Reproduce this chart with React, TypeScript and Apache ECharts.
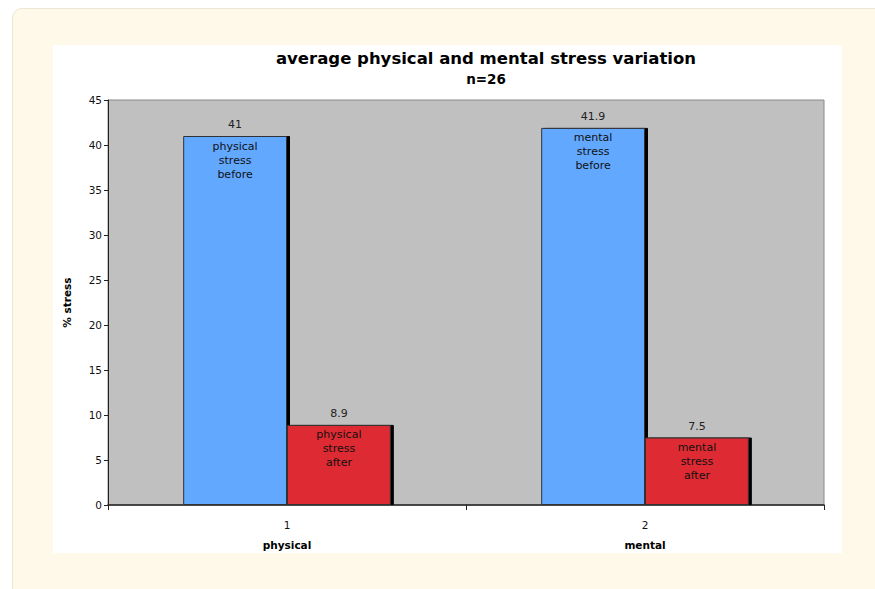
import React, { useEffect, useRef } from "react";
import * as echarts from "echarts";

const categories = ["1", "2"];
const groupNames = ["physical", "mental"];
const beforeValues = [41, 41.9];
const afterValues = [8.9, 7.5];
const beforeLabels = ["physical\nstress\nbefore", "mental\nstress\nbefore"];
const afterLabels = ["physical\nstress\nafter", "mental\nstress\nafter"];
const yTicks = { min: 0, max: 45, interval: 5 };

const FONT = "DejaVu Sans";

export default function App() {
  const ref = useRef<HTMLDivElement>(null);
  useEffect(() => {
    if (!ref.current) return;
    const chart = echarts.init(ref.current, null, { renderer: "svg" });
    const barStyle = (color: string) => ({
      color,
      borderColor: "#333",
      borderWidth: 1,
      shadowColor: "#000",
      shadowOffsetX: 3,
      shadowOffsetY: 0,
      shadowBlur: 0,
    });
    const innerLabel = {
      show: true,
      position: "insideTop",
      distance: 3,
      fontFamily: FONT,
      fontSize: 11,
      lineHeight: 14,
      color: "#111",
    };
    const topLabel = {
      show: true,
      position: "top",
      distance: 6,
      fontFamily: FONT,
      fontSize: 11,
      color: "#222",
    };
    chart.setOption({
      animation: false,
      backgroundColor: "transparent",
      title: {
        text: "average physical and mental stress variation",
        subtext: "n=26",
        left: 481,
        textAlign: "center",
        top: 43,
        itemGap: 3,
        textStyle: { fontFamily: FONT, fontSize: 16.5, fontWeight: "bold", color: "#000", lineHeight: 20 },
        subtextStyle: { fontFamily: FONT, fontSize: 13.5, fontWeight: "bold", color: "#000", lineHeight: 16 },
      },
      grid: {
        left: 108,
        top: 100,
        right: 51,
        bottom: 84,
        show: true,
        backgroundColor: "#C0C0C0",
        borderColor: "#8a8a8a",
        borderWidth: 1,
      },
      xAxis: [
        {
          type: "category",
          data: categories,
          axisLine: { show: true, lineStyle: { color: "#222", width: 1.5 } },
          axisTick: { show: true, alignWithLabel: false, length: 5, lineStyle: { color: "#222" } },
          axisLabel: {
            fontFamily: FONT,
            fontSize: 10.5,
            color: "#111",
            margin: 10,
            lineHeight: 20,
            formatter: (v: string, i: number) => `${v}\n{b|${groupNames[i]}}`,
            rich: {
              b: { fontFamily: FONT, fontSize: 10.5, fontWeight: "bold", color: "#000", lineHeight: 20 },
            },
          },
          splitLine: { show: false },
        },
        {
          type: "category",
          data: categories,
          show: false,
        },
      ],
      yAxis: {
        type: "value",
        min: yTicks.min,
        max: yTicks.max,
        interval: yTicks.interval,
        name: "% stress",
        nameLocation: "middle",
        nameGap: 36,
        nameTextStyle: { fontFamily: FONT, fontSize: 10.5, fontWeight: "bold", color: "#000" },
        axisLine: { show: true, lineStyle: { color: "#222", width: 1 } },
        axisTick: { show: true, length: 4, lineStyle: { color: "#222" } },
        axisLabel: { fontFamily: FONT, fontSize: 10.5, color: "#111", margin: 6 },
        splitLine: { show: false },
      },
      series: [
        {
          type: "bar",
          name: "before",
          xAxisIndex: 0,
          data: beforeValues,
          barGap: "0%",
          barCategoryGap: "42%",
          itemStyle: barStyle("#62A8FF"),
          label: topLabel,
          z: 2,
        },
        {
          type: "bar",
          name: "after",
          xAxisIndex: 0,
          data: afterValues,
          barGap: "0%",
          barCategoryGap: "42%",
          itemStyle: barStyle("#DE2B30"),
          label: topLabel,
          z: 2,
        },
        {
          type: "bar",
          name: "beforeText",
          xAxisIndex: 1,
          data: beforeValues.map((v, i) => ({ value: v, label: { formatter: beforeLabels[i] } })),
          barGap: "0%",
          barCategoryGap: "42%",
          itemStyle: { color: "transparent" },
          label: innerLabel,
          silent: true,
          z: 3,
        },
        {
          type: "bar",
          name: "afterText",
          xAxisIndex: 1,
          data: afterValues.map((v, i) => ({ value: v, label: { formatter: afterLabels[i] } })),
          barGap: "0%",
          barCategoryGap: "42%",
          itemStyle: { color: "transparent" },
          label: innerLabel,
          silent: true,
          z: 3,
        },
      ],
    });
    return () => chart.dispose();
  }, []);

  return (
    <div style={{ position: "fixed", left: 0, top: 0, width: 875, height: 589, background: "#fff", overflow: "hidden" }}>
      <div
        style={{
          position: "absolute",
          left: 12,
          top: 8,
          width: 900,
          height: 620,
          background: "#FEF9E8",
          border: "1px solid #ECE7D6",
          borderRadius: 10,
          boxSizing: "border-box",
        }}
      />
      <div style={{ position: "absolute", left: 53, top: 45, width: 789, height: 508, background: "#fff" }} />
      <div ref={ref} style={{ position: "absolute", left: 0, top: 0, width: 875, height: 589 }} />
    </div>
  );
}
